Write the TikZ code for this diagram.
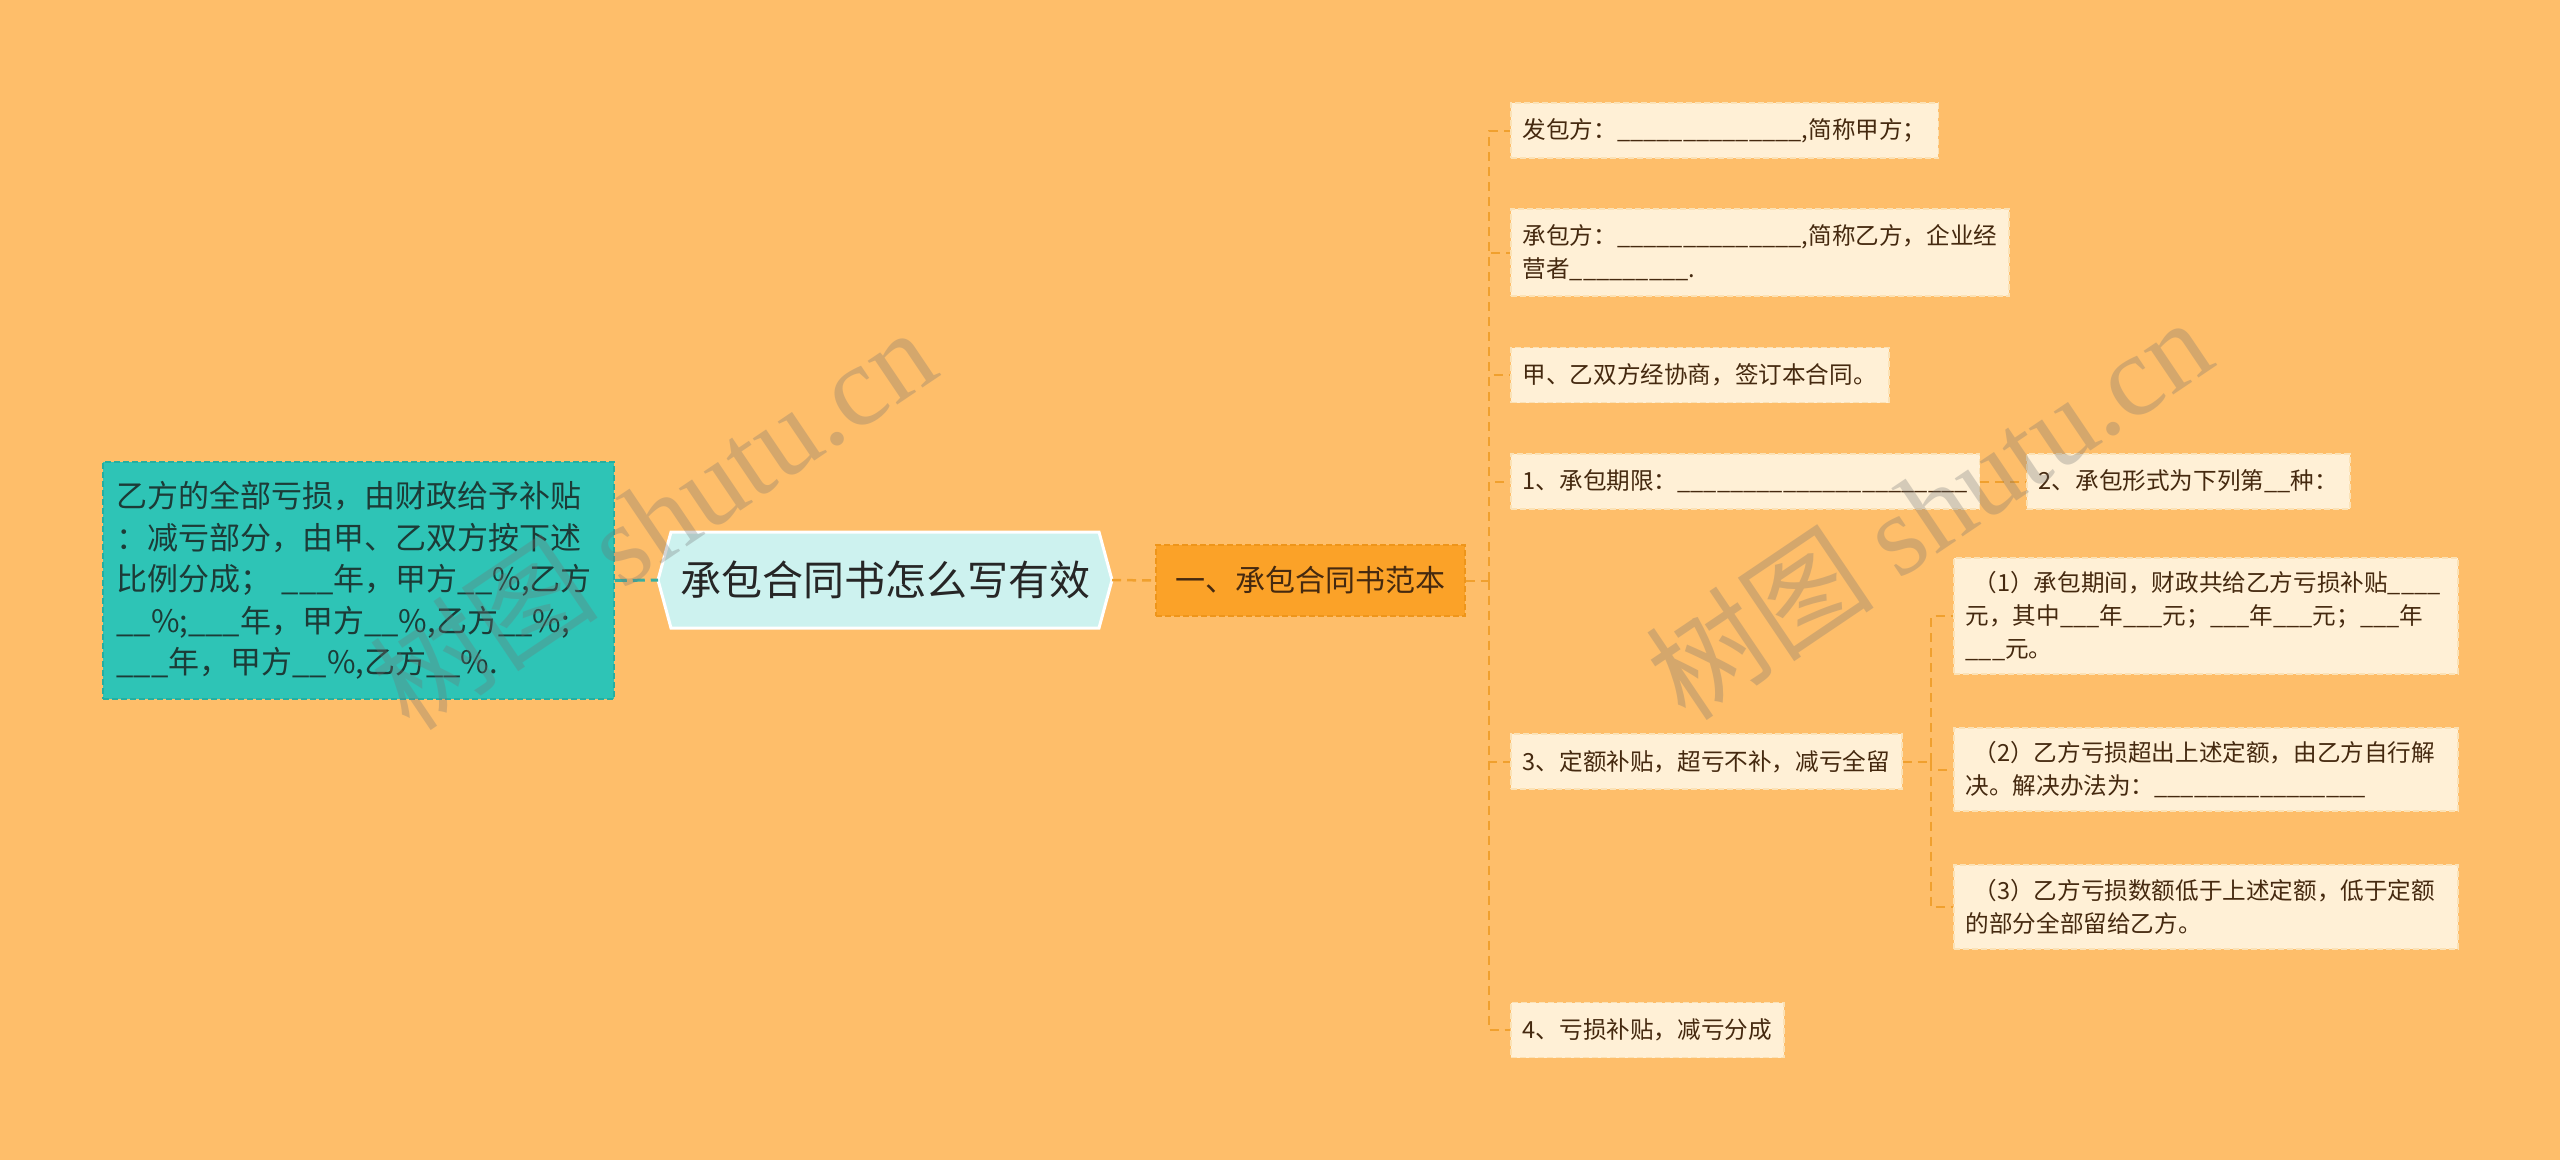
\documentclass[tikz,border=0pt]{standalone}
\usepackage{fontspec}
\setmainfont{Noto Sans CJK SC}
\newfontfamily\wmlatin{Liberation Serif}
\usetikzlibrary{calc}
\definecolor{bgc}{HTML}{FEBE6A}
\definecolor{leafc}{HTML}{FFF0D6}
\definecolor{leafb}{HTML}{FBE2B6}
\definecolor{leaftxt}{HTML}{45290F}
\definecolor{tealc}{HTML}{2EC4B6}
\definecolor{tealb}{HTML}{25AFA1}
\definecolor{tealtxt}{HTML}{1C3B37}
\definecolor{rootc}{HTML}{CDF2EF}
\definecolor{orangec}{HTML}{FBA228}
\definecolor{orangeb}{HTML}{EE951A}
\definecolor{linec}{HTML}{F0A02E}
\definecolor{teall}{HTML}{3AAE9F}
\begin{document}
\begin{tikzpicture}[x=1pt,y=-1pt,
  leaf/.style={rectangle, fill=leafc, draw=leafb, dashed, dash pattern=on 6pt off 3pt, line width=1.5pt,
    anchor=west, align=left, inner xsep=12pt, inner ysep=0pt, minimum height=55pt,
    text=leaftxt, font=\fontsize{23.6}{33}\selectfont},
  subleaf/.style={leaf, minimum width=504pt, text width=480pt},
  tree/.style={draw=linec, dashed, dash pattern=on 9pt off 6pt, line width=2pt},
  wm/.style={rotate=34, text=black!55, opacity=0.3}
]
\useasboundingbox (0,0) rectangle (2560,1160);
\fill[bgc] (0,0) rectangle (2560,1160);

% left teal node
\node[rectangle, fill=tealc, draw=tealb, dashed, dash pattern=on 6pt off 3pt, line width=1.5pt,
  minimum width=511pt, minimum height=237pt, text width=484pt, align=left, inner sep=0pt,
  text=tealtxt, font=\fontsize{31}{41.5}\selectfont] (teal) at (358.5,580.5)
  {乙方的全部亏损，由财政给予补贴\\：减亏部分，由甲、乙双方按下述\\比例分成；\ \_\_\_年，甲方\_\_\%,乙方\\\_\_\%;\_\_\_年，甲方\_\_\%,乙方\_\_\%;\\\_\_\_年，甲方\_\_\%,乙方\_\_\%.};

% root hexagon
\fill[rootc, draw=white, line width=3pt] (658,580) -- (671,532) -- (1099,532) -- (1112,580) -- (1099,628) -- (671,628) -- cycle;
\node[inner sep=0pt, font=\fontsize{41}{46}\selectfont, text=black!85] (root) at (885,580) {承包合同书怎么写有效};
\coordinate (rootL) at (658,580);
\coordinate (rootR) at (1112,580);

% orange node
\node[rectangle, fill=orangec, draw=orangeb, dashed, dash pattern=on 6pt off 3pt, line width=1.5pt,
  minimum width=309pt, minimum height=71pt, inner sep=0pt, text=leaftxt,
  font=\fontsize{30}{34}\selectfont] (sec) at (1310.5,580.5) {一、承包合同书范本};

% leaves
\node[leaf] (l1) at (1510,130.5) {发包方：\_\_\_\_\_\_\_\_\_\_\_\_\_\_,简称甲方；};
\node[leaf, minimum height=87pt] (l2) at (1510,252.5) {承包方：\_\_\_\_\_\_\_\_\_\_\_\_\_\_,简称乙方，企业经\\营者\_\_\_\_\_\_\_\_\_.};
\node[leaf] (l3) at (1510,375) {甲、乙双方经协商，签订本合同。};
\node[leaf] (l4) at (1510,481.5) {1、承包期限：\_\_\_\_\_\_\_\_\_\_\_\_\_\_\_\_\_\_\_\_\_\_};
\node[leaf] (l5) at (2026,481.5) {2、承包形式为下列第\_\_种：};
\node[leaf] (l6) at (1510,761.5) {3、定额补贴，超亏不补，减亏全留};
\node[leaf] (l7) at (1510,1030) {4、亏损补贴，减亏分成};
\node[subleaf, minimum height=116pt] (s1) at (1953,616) {\ （1）承包期间，财政共给乙方亏损补贴\_\_\_\_\\元，其中\_\_\_年\_\_\_元；\_\_\_年\_\_\_元；\_\_\_年\\\_\_\_元。};
\node[subleaf, minimum height=83pt] (s2) at (1953,769.5) {\ （2）乙方亏损超出上述定额，由乙方自行解\\决。解决办法为：\_\_\_\_\_\_\_\_\_\_\_\_\_\_\_\_};
\node[subleaf, minimum height=84pt] (s3) at (1953,907) {\ （3）乙方亏损数额低于上述定额，低于定额\\的部分全部留给乙方。};

% connectors
\draw[draw=teall, dashed, dash pattern=on 12pt off 6pt, line width=3pt] (teal.east) -- (rootL);
\draw[tree, line width=2.5pt] (rootR) -- (sec.west);
\coordinate (trunk) at (1489,580.5);
\draw[tree] (sec.east) -- (trunk);
\foreach \n in {l1,l2,l3,l4,l6,l7} {\draw[tree] (trunk) |- (\n.west);}
\draw[tree] (l4.east) -- (l5.west);
\coordinate (subtrunk) at (1931,761.5);
\draw[tree] (l6.east) -- (subtrunk);
\foreach \n in {s1,s2,s3} {\draw[tree] (subtrunk) |- (\n.west);}

% watermarks
\node[wm] (wm1) at (652,518) {\fontsize{115}{115}\selectfont 树图\ \wmlatin shutu.cn};
\node[wm] (wm2) at (1928,508) {\fontsize{115}{115}\selectfont 树图\ \wmlatin shutu.cn};
\end{tikzpicture}
\end{document}
